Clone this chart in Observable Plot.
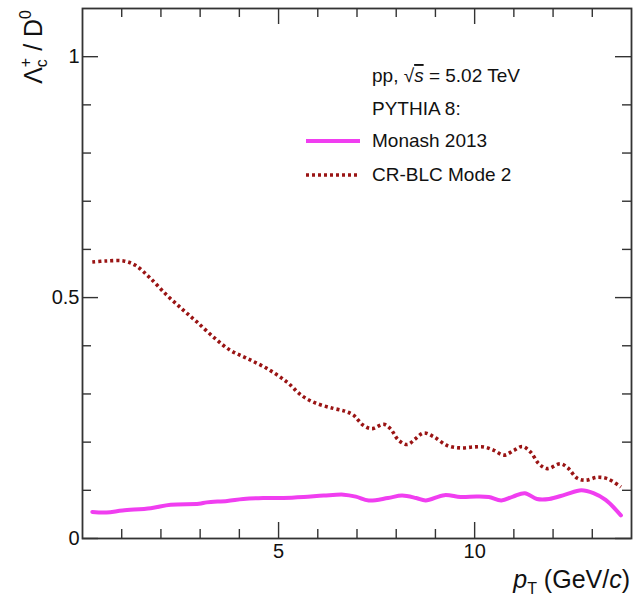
<!DOCTYPE html>
<html>
<head>
<meta charset="utf-8">
<script src="https://cdn.jsdelivr.net/npm/d3@7"></script>
<script src="https://cdn.jsdelivr.net/npm/@observablehq/plot@0.6"></script>
<style>
  html, body { margin: 0; padding: 0; background: #fff; }
  svg { display: block; }
</style>
</head>
<body>
<div id="chart"></div>
<script>
// Lambda_c+/D0 ratio vs pT, PYTHIA 8 tunes, pp at sqrt(s) = 5.02 TeV

// Monash 2013 tune
const monashPt = [0.25, 0.61, 1.02, 1.74, 2.25, 2.97, 3.17, 3.69, 4.10, 4.61, 5.12, 5.64, 6.15, 6.66, 6.97,
  7.30, 7.79, 8.15, 8.51, 8.75, 9.23, 9.64, 10.05, 10.36, 10.68, 10.98, 11.28, 11.59, 11.90, 12.31,
  12.72, 13.03, 13.34, 13.73];
const monashRatio = [0.055, 0.054, 0.058, 0.063, 0.070, 0.072, 0.075, 0.078, 0.082, 0.084, 0.084, 0.086, 0.089, 0.091, 0.087,
  0.079, 0.084, 0.089, 0.084, 0.079, 0.090, 0.086, 0.087, 0.086, 0.079, 0.087, 0.094, 0.082, 0.082, 0.091,
  0.100, 0.094, 0.080, 0.048];

// Colour-reconnection beyond leading colour, mode 2
const crPt = [0.25, 0.6, 1.05, 1.35, 1.72, 2.15, 2.57, 2.91, 3.34, 3.76, 4.19, 4.70, 5.21, 5.60, 5.98,
  6.40, 6.70, 6.91, 7.16, 7.38, 7.68, 7.85, 8.06, 8.28, 8.49, 8.70, 8.96, 9.30, 9.64, 9.98,
  10.24, 10.49, 10.75, 11.00, 11.22, 11.43, 11.64, 11.85, 12.19, 12.37, 12.62, 12.83, 13.13, 13.39, 13.73];
const crRatio = [0.574, 0.576, 0.576, 0.567, 0.541, 0.505, 0.474, 0.450, 0.418, 0.391, 0.374, 0.353, 0.325, 0.296, 0.280,
  0.270, 0.264, 0.256, 0.235, 0.228, 0.237, 0.228, 0.204, 0.195, 0.207, 0.219, 0.211, 0.193, 0.188, 0.190,
  0.190, 0.183, 0.173, 0.183, 0.191, 0.179, 0.155, 0.145, 0.155, 0.147, 0.125, 0.121, 0.127, 0.124, 0.107];

// Axis ticks
const xMajorTicks = [5, 10];
const xMinorTicks = [1, 2, 3, 4, 6, 7, 8, 9, 11, 12, 13];
const yMajorTicks = [0, 0.5, 1];
const yMinorTicks = [0.1, 0.2, 0.3, 0.4, 0.6, 0.7, 0.8, 0.9];
const xTickLabels = ["5", "10"];
const yTickLabels = ["0", "0.5", "1"];

// Legend
const legendHeader = ["pp, ", "PYTHIA 8:"];
const seriesNames = ["Monash 2013", "CR-BLC Mode 2"];
const seriesColors = ["#f03ef0", "#9a1414"];

const monash = monashPt.map((x, i) => ({x, y: monashRatio[i]}));
const cr = crPt.map((x, i) => ({x, y: crRatio[i]}));

const W = 633, H = 599;
const mL = 82, mR = 2, mT = 8, mB = 61;
const innerW = W - mL - mR, innerH = H - mT - mB;
const majorLen = 16, minorLen = 9;
const axisInk = "#333";
const dotted = "3,3";

const plot = Plot.plot({
  width: W,
  height: H,
  marginLeft: mL,
  marginRight: mR,
  marginTop: mT,
  marginBottom: mB,
  style: {fontFamily: "'Liberation Sans', Arial, Helvetica, sans-serif", background: "#fff"},
  x: {domain: [0, 14], axis: null},
  y: {domain: [0, 1.1], axis: null},
  marks: [
    // curves
    Plot.line(cr, {x: "x", y: "y", curve: "catmull-rom", stroke: seriesColors[1], strokeWidth: 3.6,
      strokeDasharray: dotted, strokeLinecap: "butt"}),
    Plot.line(monash, {x: "x", y: "y", curve: "catmull-rom", stroke: seriesColors[0], strokeWidth: 4}),
    // ticks on all four sides, pointing inward
    Plot.tickX(xMajorTicks, {x: d => d, insetTop: innerH - majorLen, stroke: axisInk, strokeWidth: 1.4}),
    Plot.tickX(xMinorTicks, {x: d => d, insetTop: innerH - minorLen, stroke: axisInk, strokeWidth: 1.4}),
    Plot.tickX(xMajorTicks, {x: d => d, insetBottom: innerH - majorLen, stroke: axisInk, strokeWidth: 1.4}),
    Plot.tickX(xMinorTicks, {x: d => d, insetBottom: innerH - minorLen, stroke: axisInk, strokeWidth: 1.4}),
    Plot.tickY(yMajorTicks, {y: d => d, insetRight: innerW - majorLen, stroke: axisInk, strokeWidth: 1.4}),
    Plot.tickY(yMinorTicks, {y: d => d, insetRight: innerW - minorLen, stroke: axisInk, strokeWidth: 1.4}),
    Plot.tickY(yMajorTicks, {y: d => d, insetLeft: innerW - majorLen, stroke: axisInk, strokeWidth: 1.4}),
    Plot.tickY(yMinorTicks, {y: d => d, insetLeft: innerW - minorLen, stroke: axisInk, strokeWidth: 1.4}),
    // tick labels
    Plot.text(xMajorTicks, {x: d => d, frameAnchor: "bottom", text: (d, i) => xTickLabels[i], lineAnchor: "top", dy: 5, fontSize: 20, fill: "#111"}),
    Plot.text(yMajorTicks, {y: d => d, frameAnchor: "left", text: (d, i) => yTickLabels[i], textAnchor: "end", dx: -3, fontSize: 20, fill: "#111"}),
    Plot.frame({stroke: axisInk, strokeWidth: 1.8})
  ]
});

document.getElementById("chart").appendChild(plot);
const svg = d3.select(plot);

// y-axis title: Lambda_c^+ / D^0
const yt = svg.append("text")
  .attr("transform", "translate(42,10) rotate(-90)")
  .attr("text-anchor", "end")
  .attr("font-size", 25)
  .attr("fill", "#111");
yt.append("tspan").text("Λ");
yt.append("tspan").attr("font-size", 16).attr("dy", 5).text("c");
yt.append("tspan").attr("font-size", 16).attr("dx", -8).attr("dy", -16).text("+");
yt.append("tspan").attr("dy", 11).text(" / D");
yt.append("tspan").attr("font-size", 16).attr("dy", -11).text("0");

// x-axis title: p_T (GeV/c)
const xt = svg.append("text")
  .attr("x", 630).attr("y", 588)
  .attr("text-anchor", "end")
  .attr("font-size", 25)
  .attr("fill", "#111");
xt.append("tspan").attr("font-style", "italic").text("p");
xt.append("tspan").attr("font-size", 16).attr("dy", 6).text("T");
xt.append("tspan").attr("dy", -6).text(" (GeV/");
xt.append("tspan").attr("font-style", "italic").text("c");
xt.append("tspan").text(")");

// legend
const lx = 372;
const leg = svg.append("g").attr("font-size", 19).attr("fill", "#111").attr("text-anchor", "start");
const h1 = leg.append("text").attr("x", lx).attr("y", 82);
h1.append("tspan").text(legendHeader[0] + "√");
h1.append("tspan").attr("font-style", "italic").attr("text-decoration", "overline").text("s");
h1.append("tspan").text(" = 5.02 TeV");
leg.append("text").attr("x", lx).attr("y", 115).text(legendHeader[1]);

const rows = [147, 181];
seriesNames.forEach((name, i) => {
  leg.append("text").attr("x", lx).attr("y", rows[i]).text(name);
  leg.append("line")
    .attr("x1", 306).attr("x2", 360)
    .attr("y1", rows[i] - 6).attr("y2", rows[i] - 6)
    .attr("stroke", seriesColors[i])
    .attr("stroke-width", i === 0 ? 4 : 3.6)
    .attr("stroke-dasharray", i === 0 ? null : dotted);
});
</script>
</body>
</html>
